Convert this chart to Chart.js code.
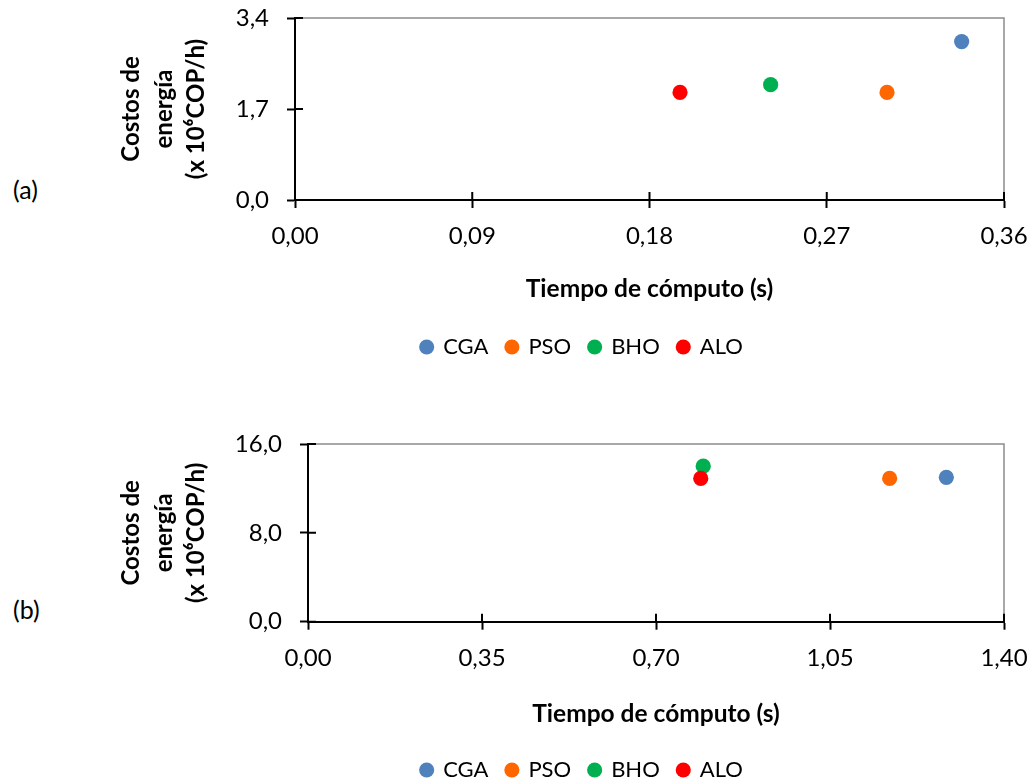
<!DOCTYPE html>
<html><head><meta charset="utf-8">
<script src="https://cdn.jsdelivr.net/npm/chart.js@4.4.0/dist/chart.umd.min.js"></script>
<style>
html,body{margin:0;padding:0;width:1032px;height:782px;overflow:hidden;background:#fff;}
.wrap{position:absolute;left:0;width:1032px;}
.lab{position:absolute;font-family:Lato,sans-serif;font-size:25px;color:#000;line-height:30px;}
</style></head><body>
<div class="lab" style="left:13px;top:174px">(a)</div>
<div class="lab" style="left:13px;top:594px">(b)</div>
<div class="wrap" style="top:0;height:420px"><canvas id="ca"></canvas></div>
<div class="wrap" style="top:426px;height:380px"><canvas id="cb"></canvas></div>
<script>
// ---- data ----
const seriesNames = ['CGA', 'PSO', 'BHO', 'ALO'];
const seriesColors = ['#4F81BD', '#FF6600', '#00B050', '#FF0000'];
// chart (a)
const timeA = [0.3385, 0.3006, 0.2415, 0.1955];
const costA = [2.96, 2.01, 2.155, 2.01];
const xTicksA = [0, 0.09, 0.18, 0.27, 0.36];
const yTicksA = [0, 1.7, 3.4];
// chart (b)
const timeB = [1.284, 1.170, 0.795, 0.790];
const costB = [13.0, 12.9, 14.0, 12.9];
const xTicksB = [0, 0.35, 0.70, 1.05, 1.40];
const yTicksB = [0, 8, 16];
const xTitle = 'Tiempo de cómputo (s)';
const yTitle = ['Costos de', 'energía', '(x 10⁶COP/h)'];

const FONT = 'Lato, sans-serif';
const fmt = (v, d) => v.toFixed(d).replace('.', ',');

const framePlugin = {
  id: 'frame',
  afterLayout(chart, args, opts) {
    if (chart.legend) { chart.legend.left += opts.legendShift; chart.legend.right += opts.legendShift; }
  },
  beforeDatasetsDraw(chart) {
    const {ctx, chartArea: a, scales} = chart;
    ctx.save();
    ctx.strokeStyle = '#8c8c8c'; ctx.lineWidth = 1.5;
    ctx.beginPath();
    ctx.moveTo(a.left + 1, a.top); ctx.lineTo(a.right, a.top); ctx.lineTo(a.right, a.bottom - 1);
    ctx.stroke();
    ctx.strokeStyle = '#000'; ctx.lineWidth = 2;
    const L = 8;
    ctx.beginPath();
    scales.x.ticks.forEach((t, i) => { const p = scales.x.getPixelForTick(i); ctx.moveTo(p, a.bottom); ctx.lineTo(p, a.bottom - L); });
    scales.y.ticks.forEach((t, i) => { const p = scales.y.getPixelForTick(i); ctx.moveTo(a.left, p); ctx.lineTo(a.left + L, p); });
    ctx.stroke();
    ctx.restore();
  }
};

function makeChart(id, times, costs, xTicks, yTicks, xDec, yDec, geo) {
  const datasets = seriesNames.map((n, i) => ({
    label: n,
    data: [{x: times[i], y: costs[i]}],
    backgroundColor: seriesColors[i],
    borderColor: seriesColors[i],
    borderWidth: 0,
    pointRadius: 7.6,
    pointHoverRadius: 7.6,
    order: seriesNames.length - 1 - i
  }));
  return new Chart(document.getElementById(id), {
    type: 'scatter',
    data: {datasets},
    plugins: [framePlugin],
    options: {
      responsive: true,
      maintainAspectRatio: false,
      animation: false,
      devicePixelRatio: 1,
      layout: {autoPadding: false, padding: {left: 100, right: 28, top: geo.top, bottom: geo.padBottom}},
      plugins: {
        frame: {legendShift: 30},
        tooltip: {enabled: false},
        legend: {
          position: 'bottom',
          labels: {
            usePointStyle: true, pointStyle: 'circle',
            boxWidth: 11, boxHeight: 10.7, padding: 18,
            color: '#000', font: {family: FONT, size: 22},
            sort: (a, b) => a.datasetIndex - b.datasetIndex
          }
        }
      },
      scales: {
        x: {
          type: 'linear',
          min: xTicks[0], max: xTicks[xTicks.length - 1],
          afterBuildTicks: s => { s.ticks = xTicks.map(v => ({value: v})); },
          afterFit: s => { s.height = geo.xAxisH; s.paddingLeft = 0; s.paddingRight = 0; s.paddingTop = 0; s.paddingBottom = 0; },
          ticks: {autoSkip: false, maxRotation: 0, color: '#000', padding: 14, font: {family: FONT, size: 24},
                  callback: v => fmt(v, xDec)},
          border: {color: '#000', width: 2},
          grid: {drawOnChartArea: false, tickLength: 8, tickColor: '#000', tickWidth: 2},
          title: {display: true, text: xTitle, color: '#000', font: {family: FONT, size: 24.5, weight: 'bold'},
                  padding: {top: 0, bottom: geo.xTitlePad}}
        },
        y: {
          type: 'linear',
          min: yTicks[0], max: yTicks[yTicks.length - 1],
          afterBuildTicks: s => { s.ticks = yTicks.map(v => ({value: v})); },
          afterFit: s => { s.width = geo.yAxisW; s.paddingLeft = 0; s.paddingRight = 0; s.paddingTop = 0; s.paddingBottom = 0; },
          ticks: {autoSkip: false, color: '#000', padding: 18, font: {family: FONT, size: 24},
                  callback: v => fmt(v, yDec)},
          border: {color: '#000', width: 2},
          grid: {drawOnChartArea: false, tickLength: 8, tickColor: '#000', tickWidth: 2},
          title: {display: true, text: yTitle, color: '#000', font: {family: FONT, size: 24, weight: 'bold', lineHeight: 1.35},
                  padding: {top: 15.5, bottom: 0}}
        }
      }
    }
  });
}

makeChart('ca', timeA, costA, xTicksA, yTicksA, 2, 1,
  {top: 18, padBottom: 52, xAxisH: 118, xTitlePad: 14.3, yAxisW: 195});
makeChart('cb', timeB, costB, xTicksB, yTicksB, 2, 1,
  {top: 18, padBottom: 15, xAxisH: 119.3, xTitlePad: 12.3, yAxisW: 208});
</script>
</body></html>
